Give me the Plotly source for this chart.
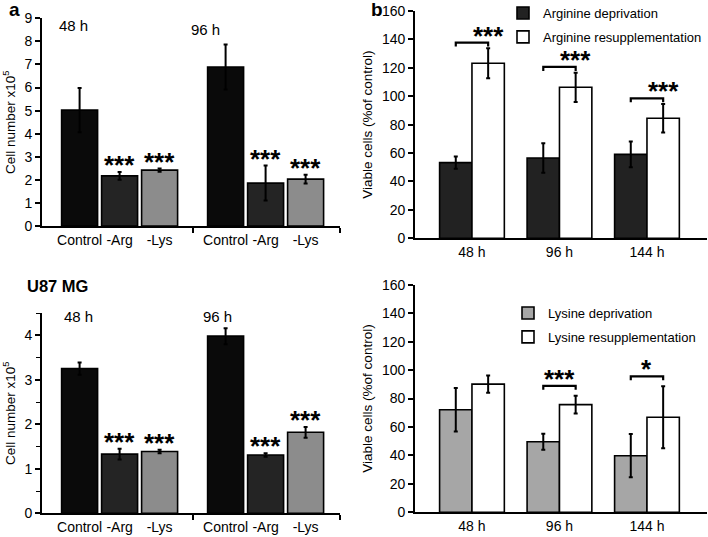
import plotly.graph_objects as go

W, H = 708, 537

# ---------------- data ----------------
a_groups = ["48 h", "96 h"]
a_conditions = ["Control", "-Arg", "-Lys"]
a_top_values = [5.02, 2.17, 2.42, 6.89, 1.86, 2.03]
a_top_errors = [0.96, 0.17, 0.07, 0.97, 0.76, 0.19]
a_top_sig = ["", "***", "***", "", "***", "***"]
a_bot_values = [3.25, 1.33, 1.39, 3.98, 1.31, 1.82]
a_bot_errors = [0.14, 0.12, 0.04, 0.18, 0.04, 0.12]
a_bot_sig = ["", "***", "***", "", "***", "***"]

b_times = ["48 h", "96 h", "144 h"]
arg_dep = [53.3, 56.5, 59.1]
arg_dep_err = [4.3, 10.4, 9.0]
arg_res = [123.2, 106.3, 84.5]
arg_res_err = [10.6, 10.3, 10.0]
arg_sig = ["***", "***", "***"]
lys_dep = [72.1, 49.6, 39.8]
lys_dep_err = [15.3, 5.6, 15.2]
lys_res = [90.1, 75.7, 66.8]
lys_res_err = [6.1, 6.2, 21.8]
lys_sig = ["", "***", "*"]

# ---------------- style ----------------
FONT = "Liberation Sans, Arial, sans-serif"
A_COLORS = ["#0a0a0a", "#242424", "#8c8c8c"]
ARG_DEP_COLOR = "#222222"
LYS_DEP_COLOR = "#a6a6a6"
GROUP_STEP = 3.65
A_BAR_W = 0.9
B_BAR_W = 0.37


def px_dom_x(x0, x1):
    return [x0 / W, x1 / W]


def px_dom_y(top, bottom):
    return [(H - bottom) / H, (H - top) / H]


xa = [i + g * GROUP_STEP for g in range(len(a_groups)) for i in range(len(a_conditions))]
a_cols = [A_COLORS[i] for g in range(len(a_groups)) for i in range(len(a_conditions))]
a_text = [a_conditions[i] for g in range(len(a_groups)) for i in range(len(a_conditions))]
xb = list(range(len(b_times)))

fig = go.Figure()

err_style = dict(type="data", color="black", thickness=2, width=2)
line_style = dict(color="black", width=1.6)

fig.add_trace(go.Bar(x=xa, y=a_top_values, width=A_BAR_W,
                     error_y=dict(array=a_top_errors, **err_style),
                     marker=dict(color=a_cols, line=line_style),
                     showlegend=False, xaxis="x", yaxis="y"))
fig.add_trace(go.Bar(x=xa, y=a_bot_values, width=A_BAR_W,
                     error_y=dict(array=a_bot_errors, **err_style),
                     marker=dict(color=a_cols, line=line_style),
                     showlegend=False, xaxis="x3", yaxis="y3"))

fig.add_trace(go.Bar(x=xb, y=arg_dep, width=B_BAR_W, offset=-B_BAR_W,
                     error_y=dict(array=arg_dep_err, **err_style),
                     marker=dict(color=ARG_DEP_COLOR, line=line_style),
                     name="Arginine deprivation", legend="legend", legendgroup="ad",
                     xaxis="x2", yaxis="y2"))
fig.add_trace(go.Bar(x=xb, y=arg_res, width=B_BAR_W, offset=0,
                     error_y=dict(array=arg_res_err, **err_style),
                     marker=dict(color="white", line=line_style),
                     name="Arginine resupplementation", legend="legend", legendgroup="ar",
                     xaxis="x2", yaxis="y2"))
fig.add_trace(go.Bar(x=xb, y=lys_dep, width=B_BAR_W, offset=-B_BAR_W,
                     error_y=dict(array=lys_dep_err, **err_style),
                     marker=dict(color=LYS_DEP_COLOR, line=line_style),
                     name="Lysine deprivation", legend="legend2", legendgroup="ld",
                     xaxis="x4", yaxis="y4"))
fig.add_trace(go.Bar(x=xb, y=lys_res, width=B_BAR_W, offset=0,
                     error_y=dict(array=lys_res_err, **err_style),
                     marker=dict(color="white", line=line_style),
                     name="Lysine resupplementation", legend="legend2", legendgroup="lr",
                     xaxis="x4", yaxis="y4"))

annotations = []
STAR_FONT = dict(family=FONT, size=26, color="black")


def add_brackets(dep, dep_e, res, res_e, sig, xax, yax, pad, star_on_res):
    for i, s in enumerate(sig):
        if not s:
            continue
        top = max(dep[i] + dep_e[i], res[i] + res_e[i]) + pad
        xl, xr = i - B_BAR_W / 2, i + B_BAR_W / 2
        fig.add_trace(go.Scatter(x=[xl, xl, xr, xr], y=[top - 2.8, top, top, top - 2.8],
                                 mode="lines", line=dict(color="black", width=2.2),
                                 showlegend=False, hoverinfo="skip",
                                 xaxis=xax, yaxis=yax))
        annotations.append(dict(x=xr if star_on_res else i, y=top, xref=xax, yref=yax,
                                text="<b>%s</b>" % s, showarrow=False, yanchor="bottom",
                                yshift=-10, font=STAR_FONT))


add_brackets(arg_dep, arg_dep_err, arg_res, arg_res_err, arg_sig, "x2", "y2", 4, True)
add_brackets(lys_dep, lys_dep_err, lys_res, lys_res_err, lys_sig, "x4", "y4", 7, False)

for vals, errs, sig, xr_, yr_ in [(a_top_values, a_top_errors, a_top_sig, "x", "y"),
                                  (a_bot_values, a_bot_errors, a_bot_sig, "x3", "y3")]:
    for xv, v, e, s in zip(xa, vals, errs, sig):
        if s:
            annotations.append(dict(x=xv, y=v + e, xref=xr_, yref=yr_, text="<b>%s</b>" % s,
                                    showarrow=False, yanchor="bottom", yshift=-10,
                                    font=STAR_FONT))

label_font = dict(family=FONT, size=15, color="black")
for g, name in enumerate(a_groups):
    gx = xa[g * len(a_conditions)]
    annotations.append(dict(x=gx + [-0.16, -0.51][g], y=[0.963, 0.948][g], xref="x", yref="y domain",
                            text=name, showarrow=False, xanchor="center", yanchor="middle",
                            font=label_font))
    annotations.append(dict(x=gx + [-0.04, -0.21][g], y=0.985, xref="x3", yref="y3 domain",
                            text=name, showarrow=False, xanchor="center", yanchor="middle",
                            font=label_font))

annotations += [
    dict(x=7 / W, y=1 - 9 / H, xref="paper", yref="paper", text="<b>a</b>", showarrow=False,
         xanchor="left", yanchor="middle", font=dict(family=FONT, size=19, color="black")),
    dict(x=369 / W, y=1 - 9 / H, xref="paper", yref="paper", text="<b>b</b>", showarrow=False,
         xanchor="left", yanchor="middle", font=dict(family=FONT, size=19, color="black")),
    dict(x=25 / W, y=1 - 286 / H, xref="paper", yref="paper", text="<b>U87 MG</b>", showarrow=False,
         xanchor="left", yanchor="middle", font=dict(family=FONT, size=16.5, color="black")),
]

tick_font = dict(family=FONT, size=14, color="black")
title_font = dict(family=FONT, size=13.5, color="black")

common_y = dict(showline=True, linecolor="black", linewidth=1.6, ticks="outside", ticklen=5,
                tickwidth=1.6, tickcolor="black", showgrid=False, zeroline=False,
                tickfont=tick_font, automargin=False, fixedrange=True)
common_x = dict(showline=True, linecolor="black", linewidth=1.6, showgrid=False, zeroline=False,
                tickfont=tick_font, automargin=False, ticks="", ticklen=0, tickangle=0,
                fixedrange=True)

a_minor = dict(tickmode="array", tickvals=[(2 + GROUP_STEP) / 2, 6.5], ticks="outside",
               ticklen=5, tickwidth=1.6, tickcolor="black", showgrid=False)

fig.update_layout(
    width=W, height=H, margin=dict(l=0, r=0, t=0, b=0, autoexpand=False),
    paper_bgcolor="white", plot_bgcolor="white", template="none",
    font=dict(family=FONT, color="black"),
    xaxis=dict(domain=px_dom_x(42, 340), range=[-0.94, 6.51], anchor="y",
               tickmode="array", tickvals=xa, ticktext=a_text, minor=a_minor, **common_x),
    yaxis=dict(domain=px_dom_y(18.3, 226), range=[0, 9], dtick=1, anchor="x",
               title=dict(text="Cell number x10<sup>5</sup>", font=title_font, standoff=6),
               **common_y),
    xaxis3=dict(domain=px_dom_x(42, 340), range=[-0.94, 6.51], anchor="y3",
                tickmode="array", tickvals=xa, ticktext=a_text, minor=a_minor, **common_x),
    yaxis3=dict(domain=px_dom_y(313, 513.3), range=[0, 4.5], dtick=1, anchor="x3",
                minor=dict(dtick=0.5, ticks="outside", ticklen=4, tickwidth=1.4,
                           tickcolor="black", showgrid=False),
                title=dict(text="Cell number x10<sup>5</sup>", font=title_font, standoff=6),
                **common_y),
    xaxis2=dict(domain=px_dom_x(415, 707), range=[-0.651, 2.686], anchor="y2",
                tickmode="array", tickvals=xb, ticktext=b_times, **common_x),
    yaxis2=dict(domain=px_dom_y(11, 238.3), range=[0, 160], dtick=20, anchor="x2",
                title=dict(text="Viable cells (%of control)", font=title_font, standoff=6),
                **common_y),
    xaxis4=dict(domain=px_dom_x(415, 707), range=[-0.651, 2.686], anchor="y4",
                tickmode="array", tickvals=xb, ticktext=b_times, **common_x),
    yaxis4=dict(domain=px_dom_y(284.7, 512.3), range=[0, 160], dtick=20, anchor="x4",
                title=dict(text="Viable cells (%of control)", font=title_font, standoff=6),
                **common_y),
    legend=dict(x=503 / W, y=1 + 2 / H, xanchor="left", yanchor="top",
                font=dict(family=FONT, size=13, color="black"), bgcolor="rgba(0,0,0,0)",
                traceorder="grouped", tracegroupgap=4),
    legend2=dict(x=508 / W, y=1 - 298 / H, xanchor="left", yanchor="top",
                 font=dict(family=FONT, size=13, color="black"), bgcolor="rgba(0,0,0,0)",
                 traceorder="grouped", tracegroupgap=4),
    annotations=annotations,
    bargap=0.25,
)

fig.write_html(
    "out.html",
    config={"displayModeBar": False},
    post_script="document.body.style.margin='0';document.body.style.overflow='hidden';",
)
